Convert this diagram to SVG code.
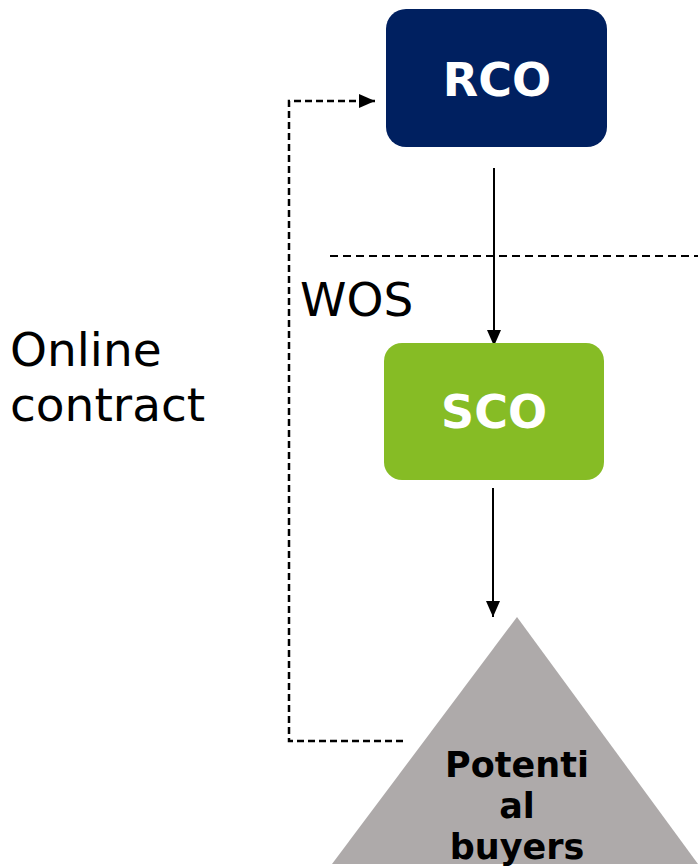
<svg xmlns="http://www.w3.org/2000/svg" width="698" height="867" viewBox="0 0 698 867">
<style>
.lbl{font-family:"DejaVu Sans",Verdana,sans-serif;font-size:47px;fill:#000}
.nt{font-family:"DejaVu Sans",Verdana,sans-serif;font-weight:bold;font-size:46px;fill:#fff;text-anchor:middle}
.pt{font-family:"DejaVu Sans",Verdana,sans-serif;font-weight:bold;font-size:35px;fill:#000;text-anchor:middle}
.solid{stroke:#000;stroke-width:2;fill:none}
.dash{stroke:#000;stroke-width:2.5;fill:none;stroke-dasharray:7 4}
.hdash{stroke:#000;stroke-width:2;fill:none;stroke-dasharray:8 5}
</style>
<defs>
<marker id="ah2" markerWidth="16" markerHeight="16" refX="16" refY="8" orient="auto" markerUnits="userSpaceOnUse" viewBox="0 0 16 16">
<path d="M0,1 L16,8 L0,15 Z" fill="#000"/>
</marker>
</defs>
<rect width="698" height="867" fill="#fff"/>
<g id="divider"><line x1="330" y1="256" x2="698" y2="256" class="hdash"/></g>
<g id="connectors">
<line x1="494" y1="168" x2="494" y2="346" class="solid" marker-end="url(#ah2)"/>
<line x1="493" y1="488" x2="493" y2="617" class="solid" marker-end="url(#ah2)"/>
<polyline points="403,741 289,741 289,101 375,101" class="dash" marker-end="url(#ah2)"/>
</g>
<g id="rco"><rect x="386" y="9" width="221" height="138" rx="20" fill="#002060"/><text x="497" y="96" class="nt">RCO</text></g>
<g id="sco"><rect x="384" y="343" width="220" height="137" rx="18" fill="#86bc25"/><text x="494" y="428" class="nt">SCO</text></g>
<g id="buyers"><polygon points="517,617 698,864 332,864" fill="#aeaaaa"/>
<text x="517" y="777" class="pt">Potenti</text><text x="517" y="818" class="pt">al</text><text x="517" y="859" class="pt">buyers</text></g>
<g id="labels">
<text x="300" y="316" class="lbl">WOS</text>
<text x="10" y="366" class="lbl">Online</text>
<text x="10" y="421" class="lbl">contract</text>
</g>
</svg>
